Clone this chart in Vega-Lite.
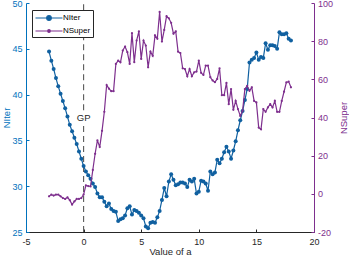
{
"$schema": "https://vega.github.io/schema/vega-lite/v6.json",
"width": 288, "height": 229,
"autosize": {"type": "none"},
"padding": {"left": 26, "top": 3, "right": 35, "bottom": 26},
"background": "white",
"config": {"font": "Liberation Sans", "view": {"stroke": null}, "axis": {"grid": false, "labelFont": "Liberation Sans", "titleFont": "Liberation Sans", "titleFontWeight": "normal", "labelFontSize": 9, "titleFontSize": 10}},
"data": {"values": [
{"a":-3.0,"NIter":44.7,"NSuper":-1.3},{"a":-2.8,"NIter":43.7,"NSuper":-0.4},{"a":-2.6,"NIter":42.8,"NSuper":-0.9},{"a":-2.4,"NIter":41.8,"NSuper":-0.4},{"a":-2.2,"NIter":40.9,"NSuper":-0.4},{"a":-2.0,"NIter":40.1,"NSuper":-1.3},{"a":-1.8,"NIter":39.3,"NSuper":-2.2},{"a":-1.6,"NIter":38.5,"NSuper":-2.7},{"a":-1.4,"NIter":37.6,"NSuper":-1.8},{"a":-1.2,"NIter":36.7,"NSuper":-3.3},
{"a":-1.0,"NIter":36.0,"NSuper":-5.6},{"a":-0.8,"NIter":35.3,"NSuper":-4.0},{"a":-0.6,"NIter":34.6,"NSuper":-2.7},{"a":-0.4,"NIter":33.8,"NSuper":-2.7},{"a":-0.2,"NIter":33.0,"NSuper":-2.2},{"a":0.0,"NIter":32.2,"NSuper":-0.4},{"a":0.2,"NIter":31.6,"NSuper":4.4},{"a":0.4,"NIter":31.2,"NSuper":4.1},{"a":0.6,"NIter":30.8,"NSuper":3.9},{"a":0.8,"NIter":30.3,"NSuper":12.5},
{"a":1.0,"NIter":29.9,"NSuper":21.0},{"a":1.2,"NIter":29.2,"NSuper":28.0},{"a":1.4,"NIter":28.8,"NSuper":24.5},{"a":1.6,"NIter":28.8,"NSuper":33.0},{"a":1.8,"NIter":28.3,"NSuper":43.0},{"a":2.0,"NIter":27.8,"NSuper":57.0},{"a":2.2,"NIter":28.1,"NSuper":55.1},{"a":2.4,"NIter":27.5,"NSuper":53.8},{"a":2.6,"NIter":27.3,"NSuper":53.8},{"a":2.8,"NIter":27.2,"NSuper":68.1},
{"a":3.0,"NIter":26.2,"NSuper":69.8},{"a":3.2,"NIter":26.4,"NSuper":68.9},{"a":3.4,"NIter":26.5,"NSuper":75.1},{"a":3.6,"NIter":26.8,"NSuper":77.2},{"a":3.8,"NIter":27.6,"NSuper":74.2},{"a":4.0,"NIter":27.8,"NSuper":68.1},{"a":4.2,"NIter":26.9,"NSuper":84.2},{"a":4.4,"NIter":27.4,"NSuper":69.0},{"a":4.6,"NIter":27.3,"NSuper":80.3},{"a":4.8,"NIter":27.1,"NSuper":85.1},
{"a":5.0,"NIter":26.8,"NSuper":70.7},{"a":5.2,"NIter":26.5,"NSuper":80.3},{"a":5.4,"NIter":25.6,"NSuper":77.7},{"a":5.6,"NIter":25.4,"NSuper":66.3},{"a":5.8,"NIter":26.0,"NSuper":74.5},{"a":6.0,"NIter":26.1,"NSuper":72.3},{"a":6.2,"NIter":26.0,"NSuper":83.0},{"a":6.4,"NIter":26.6,"NSuper":81.3},{"a":6.6,"NIter":27.3,"NSuper":95.3},{"a":6.8,"NIter":28.5,"NSuper":79.8},
{"a":7.0,"NIter":29.8,"NSuper":85.9},{"a":7.2,"NIter":28.9,"NSuper":93.1},{"a":7.4,"NIter":30.5,"NSuper":92.0},{"a":7.6,"NIter":31.3,"NSuper":89.6},{"a":7.8,"NIter":30.7,"NSuper":83.9},{"a":8.0,"NIter":30.1,"NSuper":85.1},{"a":8.2,"NIter":30.2,"NSuper":74.5},{"a":8.4,"NIter":30.4,"NSuper":73.8},{"a":8.6,"NIter":30.4,"NSuper":65.8},{"a":8.8,"NIter":30.3,"NSuper":65.4},
{"a":9.0,"NIter":29.9,"NSuper":61.6},{"a":9.2,"NIter":30.7,"NSuper":65.4},{"a":9.4,"NIter":30.5,"NSuper":61.6},{"a":9.6,"NIter":30.8,"NSuper":63.7},{"a":9.8,"NIter":29.2,"NSuper":64.1},{"a":10.0,"NIter":29.4,"NSuper":69.8},{"a":10.2,"NIter":30.6,"NSuper":63.4},{"a":10.4,"NIter":30.5,"NSuper":62.3},{"a":10.6,"NIter":30.3,"NSuper":67.2},{"a":10.8,"NIter":29.5,"NSuper":67.2},
{"a":11.0,"NIter":31.6,"NSuper":61.1},{"a":11.2,"NIter":31.3,"NSuper":59.4},{"a":11.4,"NIter":31.5,"NSuper":58.5},{"a":11.6,"NIter":32.9,"NSuper":60.2},{"a":11.8,"NIter":32.5,"NSuper":65.8},{"a":12.0,"NIter":33.0,"NSuper":51.7},{"a":12.2,"NIter":33.7,"NSuper":51.7},{"a":12.4,"NIter":34.3,"NSuper":58.1},{"a":12.6,"NIter":33.8,"NSuper":47.0},{"a":12.8,"NIter":33.0,"NSuper":54.9},
{"a":13.0,"NIter":33.9,"NSuper":44.0},{"a":13.2,"NIter":34.9,"NSuper":48.7},{"a":13.4,"NIter":36.1,"NSuper":44.4},{"a":13.6,"NIter":37.2,"NSuper":40.8},{"a":13.8,"NIter":38.2,"NSuper":43.5},{"a":14.0,"NIter":39.4,"NSuper":54.9},{"a":14.2,"NIter":40.6,"NSuper":56.6},{"a":14.4,"NIter":43.5,"NSuper":54.0},{"a":14.6,"NIter":43.8,"NSuper":55.8},{"a":14.8,"NIter":44.0,"NSuper":48.7},
{"a":15.0,"NIter":44.6,"NSuper":47.9},{"a":15.2,"NIter":43.8,"NSuper":34.7},{"a":15.4,"NIter":44.1,"NSuper":33.8},{"a":15.6,"NIter":44.0,"NSuper":44.4},{"a":15.8,"NIter":45.6,"NSuper":43.0},{"a":16.0,"NIter":44.9,"NSuper":45.3},{"a":16.2,"NIter":45.4,"NSuper":47.0},{"a":16.4,"NIter":45.4,"NSuper":45.3},{"a":16.6,"NIter":45.3,"NSuper":48.7},{"a":16.8,"NIter":45.0,"NSuper":43.0},
{"a":17.0,"NIter":46.8,"NSuper":43.0},{"a":17.2,"NIter":46.6,"NSuper":48.7},{"a":17.4,"NIter":46.6,"NSuper":53.5},{"a":17.6,"NIter":46.7,"NSuper":58.4},{"a":17.8,"NIter":46.1,"NSuper":58.8},{"a":18.0,"NIter":45.9,"NSuper":55.8}
]},
"encoding": {"x": {"field": "a", "type": "quantitative", "scale": {"domain": [-5, 20], "nice": false, "zero": false},
  "axis": {"values": [-5, 0, 5, 10, 15, 20], "tickSize": -3, "labelPadding": 8, "labelFlush": false, "labelOverlap": false, "title": "Value of a", "titlePadding": 0, "titleFontSize": 9.5, "domainColor": "#262626", "tickColor": "#262626", "labelColor": "#262626", "titleColor": "#262626", "labelExpr": "datum.value < 0 ? '-' + abs(datum.value) : '' + datum.value"}}},
"layer": [
 {"encoding": {"y": {"field": "NIter", "type": "quantitative", "scale": {"domain": [25, 50], "nice": false, "zero": false},
   "axis": {"orient": "left", "values": [25, 30, 35, 40, 45, 50], "tickSize": -3, "labelPadding": 7, "labelFlush": false, "title": "NIter", "titleFontSize": 9.5, "titlePadding": 0, "domainColor": "#0072BD", "tickColor": "#0072BD", "labelColor": "#0072BD", "titleColor": "#0072BD"}}},
  "layer": [
   {"data": {"values": [{"a": 0, "NIter": 25, "NIter2": 36.6}, {"a": 0, "NIter": 38.3, "NIter2": 50}]},
    "mark": {"type": "rule", "color": "#595959", "strokeWidth": 1.1, "strokeDash": [6, 4]},
    "encoding": {"y2": {"field": "NIter2"}}},
   {"data": {"values": [{"a": 0, "NIter": 37.45, "label": "GP"}]},
    "mark": {"type": "text", "fontSize": 9.5, "color": "#262626", "align": "center", "baseline": "middle", "font": "Liberation Sans"},
    "encoding": {"text": {"field": "label"}}},
   {"mark": {"type": "line", "strokeWidth": 1.2},
    "encoding": {"color": {"datum": "NIter", "type": "nominal", "scale": {"domain": ["NIter", "NSuper"], "range": ["#1060a0", "#7E2F8E"]},
      "legend": {"orient": "none", "legendX": 6, "legendY": 7, "title": null, "direction": "vertical", "padding": 2, "fillColor": "white", "strokeColor": "#262626", "symbolSize": 100, "symbolOffset": 9, "labelOffset": 8, "labelFontSize": 8, "labelFont": "Liberation Sans", "labelColor": "black", "rowPadding": 2,
        "encode": {"symbols": {"update": {"shape": {"signal": "datum.value === 'NIter' ? 'M-2.7,0L2.7,0M-0.46,0A0.46,0.46,0,1,1,0.46,0A0.46,0.46,0,1,1,-0.46,0Z' : 'M-2.7,0L2.7,0M-0.26,0A0.26,0.26,0,1,1,0.26,0A0.26,0.26,0,1,1,-0.26,0Z'"}, "stroke": {"scale": "color", "field": "value"}, "fill": {"scale": "color", "field": "value"}, "strokeWidth": {"value": 1.2}, "opacity": {"value": 1}}}}}}}},
   {"mark": {"type": "point", "filled": true, "size": 16, "opacity": 1},
    "encoding": {"color": {"datum": "NIter", "type": "nominal"}}}
  ]},
 {"encoding": {"y": {"field": "NSuper", "type": "quantitative", "scale": {"domain": [-20, 100], "nice": false, "zero": false},
   "axis": {"orient": "right", "values": [-20, 0, 20, 40, 60, 80, 100], "tickSize": -3, "labelPadding": 6.5, "labelFlush": false, "title": "NSuper", "titleAngle": 270, "titleFontSize": 9.5, "titlePadding": 16, "domainColor": "#7E2F8E", "tickColor": "#7E2F8E", "labelColor": "#7E2F8E", "titleColor": "#7E2F8E", "labelExpr": "datum.value < 0 ? '-' + abs(datum.value) : '' + datum.value"}}},
  "layer": [
   {"mark": {"type": "line", "strokeWidth": 1.2},
    "encoding": {"color": {"datum": "NSuper", "type": "nominal"}}},
   {"mark": {"type": "point", "filled": true, "size": 5, "opacity": 1},
    "encoding": {"color": {"datum": "NSuper", "type": "nominal"}}}
  ]}
],
"resolve": {"scale": {"y": "independent"}}
}
